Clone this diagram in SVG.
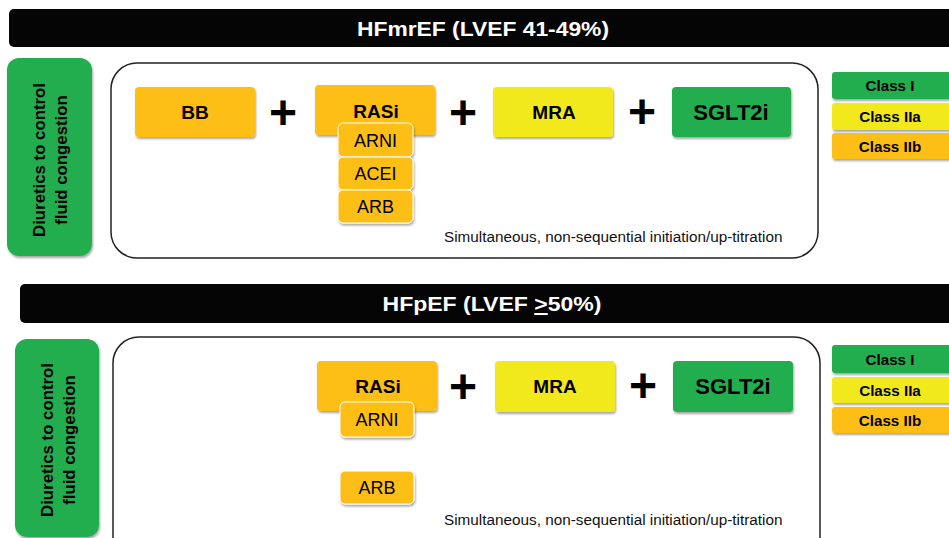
<svg xmlns="http://www.w3.org/2000/svg" width="949" height="538" viewBox="0 0 949 538">
<defs>
<filter id="sh" x="-10%" y="-10%" width="130%" height="140%">
<feDropShadow dx="1" dy="2" stdDeviation="1.2" flood-color="#000" flood-opacity="0.35"/>
</filter>
<style>
.bar{fill:#050505}
.bartxt{font-family:"Liberation Sans",Arial,sans-serif;font-weight:bold;font-size:20.5px;fill:#fff;text-anchor:middle}
.diu{fill:#24ae50;filter:url(#sh)}
.diutxt{font-family:"Liberation Sans",Arial,sans-serif;font-weight:bold;font-size:16.8px;fill:#000;text-anchor:middle}
.outer{fill:#fff;stroke:#222;stroke-width:1.5}
.or{fill:#fdbf16;filter:url(#sh)}
.sub{fill:#fdbf16;stroke:#fff;stroke-width:1;filter:url(#sh)}
.ye{fill:#f2e91b;filter:url(#sh)}
.gr{fill:#24ae50;filter:url(#sh)}
.bt{font-family:"Liberation Sans",Arial,sans-serif;font-weight:bold;font-size:19px;fill:#000;text-anchor:middle}
.bt2{font-family:"Liberation Sans",Arial,sans-serif;font-weight:bold;font-size:22px;fill:#000;text-anchor:middle}
.st{font-family:"Liberation Sans",Arial,sans-serif;font-size:18px;fill:#000;text-anchor:middle}
.plus{font-family:"Liberation Sans",Arial,sans-serif;font-weight:bold;font-size:48px;fill:#000;text-anchor:middle}
.note{font-family:"Liberation Sans",Arial,sans-serif;font-size:15.3px;fill:#111}
.cl{font-family:"Liberation Sans",Arial,sans-serif;font-weight:bold;font-size:15.2px;fill:#000;text-anchor:middle}
</style>
</defs>
<rect width="949" height="538" fill="#fff"/>

<!-- Section 1 -->
<g id="hfmref-header">
<rect class="bar" x="9" y="9" width="960" height="38" rx="5"/>
<text class="bartxt" x="483" y="36" textLength="252" lengthAdjust="spacingAndGlyphs">HFmrEF (LVEF 41-49%)</text>
</g>
<g id="diuretics-1">
<rect class="diu" x="7" y="58" width="85" height="198" rx="12"/>
<text class="diutxt" transform="translate(50,160) rotate(-90)"><tspan x="0" y="-5">Diuretics to control</tspan><tspan x="0" y="17">fluid congestion</tspan></text>
</g>
<g id="frame-1">
<rect class="outer" x="111" y="63" width="707" height="195" rx="26"/>
<text class="note" x="444" y="242">Simultaneous, non-sequential initiation/up-titration</text>
</g>
<g id="bb-1">
<rect class="or" x="135" y="87" width="120" height="50" rx="4"/>
<text class="bt" x="195" y="119">BB</text>
</g>
<g id="rasi-1">
<rect class="or" x="315" y="85" width="120" height="50" rx="4"/>
<text class="bt" x="376" y="118">RASi</text>
</g>
<g id="arni-1">
<rect class="sub" x="338" y="123" width="75" height="34" rx="5"/>
<text class="st" x="375.5" y="147">ARNI</text>
</g>
<g id="acei-1">
<rect class="sub" x="338" y="157" width="75" height="33" rx="5"/>
<text class="st" x="375.5" y="180">ACEI</text>
</g>
<g id="arb-1">
<rect class="sub" x="338" y="190" width="75" height="33" rx="5"/>
<text class="st" x="375.5" y="213">ARB</text>
</g>
<g id="mra-1">
<rect class="ye" x="493" y="87" width="120" height="50" rx="4"/>
<text class="bt" x="554" y="119">MRA</text>
</g>
<g id="sglt2i-1">
<rect class="gr" x="672" y="87" width="119" height="50" rx="4"/>
<text class="bt2" x="731" y="120">SGLT2i</text>
</g>
<g id="plus-1">
<text class="plus" x="283" y="129">+</text>
<text class="plus" x="463" y="129">+</text>
<text class="plus" x="642" y="128">+</text>
</g>
<g id="legend-1">
<rect class="gr" x="832" y="72" width="130" height="27" rx="3"/>
<text class="cl" x="890" y="91">Class I</text>
<rect class="ye" x="832" y="103" width="130" height="27" rx="3"/>
<text class="cl" x="890" y="122">Class IIa</text>
<rect class="or" x="832" y="133" width="130" height="26" rx="3"/>
<text class="cl" x="890" y="152">Class IIb</text>
</g>

<!-- Section 2 -->
<g id="hfpef-header">
<rect class="bar" x="20" y="284" width="960" height="39" rx="5"/>
<text class="bartxt" x="492" y="311" textLength="219" lengthAdjust="spacingAndGlyphs">HFpEF (LVEF <tspan text-decoration="underline">&gt;</tspan>50%)</text>
</g>
<g id="diuretics-2">
<rect class="diu" x="15" y="339" width="84" height="198" rx="12"/>
<text class="diutxt" transform="translate(58,440) rotate(-90)"><tspan x="0" y="-5">Diuretics to control</tspan><tspan x="0" y="17">fluid congestion</tspan></text>
</g>
<g id="frame-2">
<rect class="outer" x="113" y="337" width="707" height="230" rx="26"/>
<text class="note" x="444" y="525">Simultaneous, non-sequential initiation/up-titration</text>
</g>
<g id="rasi-2">
<rect class="or" x="317" y="361" width="120" height="50" rx="4"/>
<text class="bt" x="378" y="393">RASi</text>
</g>
<g id="arni-2">
<rect class="sub" x="340" y="402" width="74" height="35" rx="5"/>
<text class="st" x="377" y="426">ARNI</text>
</g>
<g id="arb-2">
<rect class="sub" x="340" y="471" width="74" height="33" rx="5"/>
<text class="st" x="377" y="494">ARB</text>
</g>
<g id="mra-2">
<rect class="ye" x="495" y="361" width="120" height="51" rx="4"/>
<text class="bt" x="555" y="393">MRA</text>
</g>
<g id="sglt2i-2">
<rect class="gr" x="673" y="361" width="120" height="51" rx="4"/>
<text class="bt2" x="733" y="394">SGLT2i</text>
</g>
<g id="plus-2">
<text class="plus" x="463" y="403">+</text>
<text class="plus" x="643" y="402">+</text>
</g>
<g id="legend-2">
<rect class="gr" x="832" y="345" width="130" height="28" rx="3"/>
<text class="cl" x="890" y="365">Class I</text>
<rect class="ye" x="832" y="377" width="130" height="26" rx="3"/>
<text class="cl" x="890" y="396">Class IIa</text>
<rect class="or" x="832" y="407" width="130" height="26" rx="3"/>
<text class="cl" x="890" y="426">Class IIb</text>
</g>
<g id="connectors"></g>
</svg>
